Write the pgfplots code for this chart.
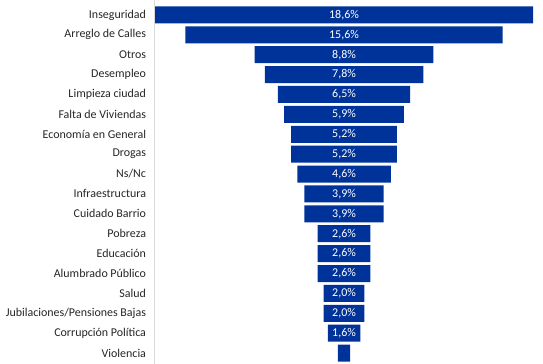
\documentclass[border=0pt]{standalone}
\usepackage{pgfplots}
\usepackage{pgfplotstable}
\pgfplotsset{compat=1.18}
\usepackage{fontspec}
\setmainfont{Carlito}
\definecolor{barblue}{RGB}{0,51,153}

% v = value, off = (18.6-v)/2 (blank part left of the bar)
\pgfplotstableread{
y v off lab
0 18.6 0 18,6\%
1 15.6 1.5 15,6\%
2 8.8 4.9 8,8\%
3 7.8 5.4 7,8\%
4 6.5 6.05 6,5\%
5 5.9 6.35 5,9\%
6 5.2 6.7 5,2\%
7 5.2 6.7 5,2\%
8 4.6 7.0 4,6\%
9 3.9 7.35 3,9\%
10 3.9 7.35 3,9\%
11 2.6 8.0 2,6\%
12 2.6 8.0 2,6\%
13 2.6 8.0 2,6\%
14 2.0 8.3 2,0\%
15 2.0 8.3 2,0\%
16 1.6 8.5 1,6\%
17 0.6 9.0 {}
}\data

\pgfplotsset{common/.style={
  scale only axis,
  width=388bp, height=364bp,
  xmin=0, xmax=19.09,
  ymin=-0.75, ymax=17.55,
  y dir=reverse,
}}

\begin{document}
\begin{tikzpicture}
\begin{axis}[
  common,
  xbar stacked,
  bar width=17bp,
  axis on top,
  axis x line=none,
  axis y line*=left,
  y axis line style={draw=black!15, line width=1pt, -},
  ytick={0,...,17},
  yticklabels={Inseguridad, Arreglo de Calles, Otros, Desempleo, Limpieza ciudad, Falta de Viviendas, Economía en General, Drogas, Ns/Nc, Infraestructura, Cuidado Barrio, Pobreza, Educación, Alumbrado Público, Salud, Jubilaciones/Pensiones Bajas, Corrupción Política, Violencia},
  major tick length=0pt,
  yticklabel style={font=\fontsize{12}{14}\selectfont, text=black!85, xshift=-5.5pt},
  clip=false,
]
\addplot[fill=none, draw=none] table[x=off, y=y] {\data};
\addplot[fill=barblue, draw=none] table[x=v, y=y] {\data};
\end{axis}
\begin{axis}[
  common,
  hide axis,
  clip=false,
]
\addplot[draw=none, mark=none, nodes near coords, point meta=explicit symbolic,
  nodes near coords style={anchor=center, text=white, font=\fontsize{12}{14}\selectfont}]
  table[x expr=9.3, y=y, meta=lab] {\data};
\end{axis}
\pgfresetboundingbox
\path (current axis.south west) ++(-155bp,0) rectangle (current axis.north east);
\end{tikzpicture}
\end{document}
